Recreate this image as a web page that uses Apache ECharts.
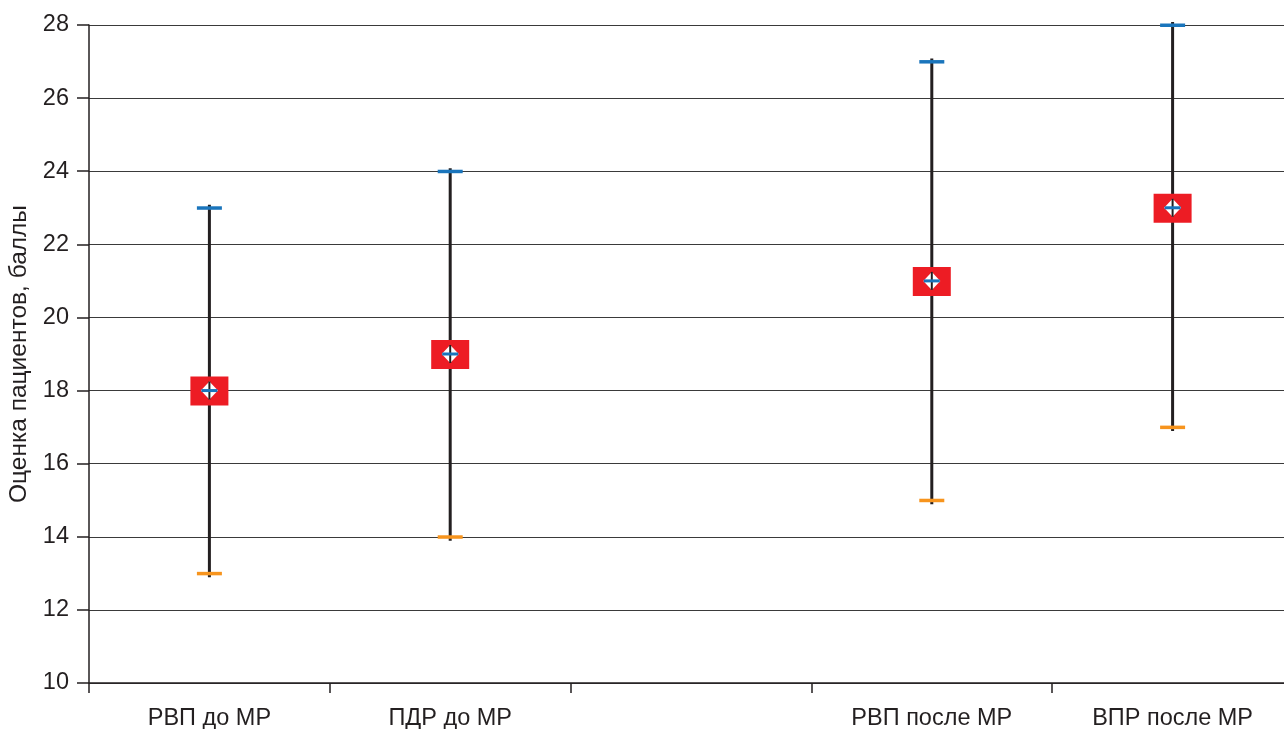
<!DOCTYPE html>
<html>
<head>
<meta charset="utf-8">
<script src="https://cdn.jsdelivr.net/npm/echarts@6/dist/echarts.min.js"></script>
<style>
html,body{margin:0;padding:0;background:#fff;}
#chart{width:1284px;height:729px;}
</style>
</head>
<body>
<div id="chart"></div>
<script>
// Data
var categories = ['РВП до МР', 'ПДР до МР', '', 'РВП после МР', 'ВПР после МР'];
var medians = [18, 19, null, 21, 23];
var highs   = [23, 24, null, 27, 28];
var lows    = [13, 14, null, 15, 17];
var yTicks  = [10, 12, 14, 16, 18, 20, 22, 24, 26, 28];
var yTitle  = 'Оценка пациентов, баллы';

var seriesData = [];
for (var i = 0; i < categories.length; i++) {
  if (medians[i] !== null) seriesData.push([i, lows[i], highs[i], medians[i]]);
}

var INK = '#231f20';
var RED = '#ed1c24';
var BLUE = '#1a75bc';
var ORANGE = '#f7941d';
var FONT = 'Liberation Sans, Arial, sans-serif';

function renderItem(params, api) {
  var x = api.value(0);
  var pLow = api.coord([x, api.value(1)]);
  var pHigh = api.coord([x, api.value(2)]);
  var pMed = api.coord([x, api.value(3)]);
  var cx = pMed[0];
  var capW = 25;
  var children = [
    { type: 'line', shape: { x1: cx, y1: pHigh[1] - 3, x2: cx, y2: pLow[1] + 4 },
      style: { stroke: INK, lineWidth: 3 } },
    { type: 'rect', shape: { x: cx - capW / 2, y: pHigh[1] - 1.5, width: capW, height: 3.5 },
      style: { fill: BLUE } },
    { type: 'rect', shape: { x: cx - capW / 2, y: pLow[1] - 1.5, width: capW, height: 3.5 },
      style: { fill: ORANGE } },
    { type: 'rect', shape: { x: cx - 19, y: pMed[1] - 14, width: 38, height: 29 },
      style: { fill: RED } },
    { type: 'polygon', shape: { points: [[cx, pMed[1] - 9], [cx + 8.5, pMed[1]], [cx, pMed[1] + 9], [cx - 8.5, pMed[1]]] },
      style: { fill: '#ffffff' } },
    { type: 'line', shape: { x1: cx, y1: pMed[1] - 9, x2: cx, y2: pMed[1] + 9 },
      style: { stroke: INK, lineWidth: 2 } },
    { type: 'rect', shape: { x: cx - 8, y: pMed[1] - 1.5, width: 16, height: 3 },
      style: { fill: BLUE } }
  ];
  return { type: 'group', children: children };
}

var chart = echarts.init(document.getElementById('chart'), null, { renderer: 'canvas' });
chart.setOption({
  animation: false,
  backgroundColor: '#ffffff',
  grid: { left: 89, right: -9, top: 25, bottom: 46, containLabel: false, outerBoundsMode: 'none' },
  xAxis: {
    type: 'category',
    data: categories,
    boundaryGap: true,
    axisLine: { show: true, lineStyle: { color: INK, width: 1.5 } },
    axisTick: { show: true, length: 10, lineStyle: { color: INK, width: 1.5 } },
    axisLabel: { color: INK, fontSize: 23.5, fontFamily: FONT, margin: 24, interval: 0 },
    splitLine: { show: false }
  },
  yAxis: {
    type: 'value',
    min: yTicks[0],
    max: yTicks[yTicks.length - 1],
    interval: 2,
    name: yTitle,
    nameLocation: 'middle',
    nameGap: 56,
    nameTextStyle: { color: INK, fontSize: 24.5, fontFamily: FONT },
    axisLine: { show: true, lineStyle: { color: INK, width: 1.5 } },
    axisTick: { show: true, length: 12, lineStyle: { color: INK, width: 1.5 } },
    axisLabel: { color: INK, fontSize: 23.5, fontFamily: FONT, margin: 20 },
    splitLine: { show: true, lineStyle: { color: '#3a3a3a', width: 1 } }
  },
  series: [{
    type: 'custom',
    renderItem: renderItem,
    data: seriesData,
    encode: { x: 0, y: [1, 2, 3] },
    z: 10
  }]
});
</script>
</body>
</html>
